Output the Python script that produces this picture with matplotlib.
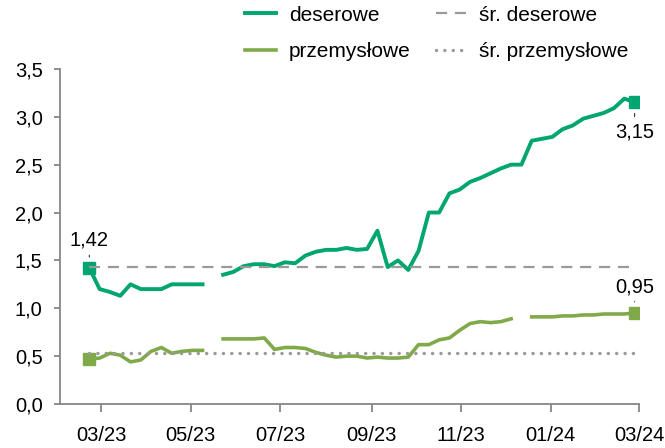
import pandas as pd
import numpy as np
import matplotlib
matplotlib.use("Agg")
import matplotlib.pyplot as plt
import matplotlib.dates as mdates

plt.rcParams['font.family'] = ['Liberation Sans', 'DejaVu Sans']

# tygodniowe notowania (NaN = brak danych)
dates = pd.date_range('2023-02-21', periods=54, freq='7D')

deserowe = [1.42, 1.20, 1.17, 1.13, 1.25, 1.20, 1.20, 1.20, 1.25, 1.25,
            1.25, 1.25, np.nan, 1.35, 1.38, 1.44, 1.46, 1.46, 1.44, 1.48,
            1.47, 1.55, 1.59, 1.61, 1.61, 1.63, 1.61, 1.62, 1.81, 1.43,
            1.50, 1.40, 1.60, 2.00, 2.00, 2.20, 2.24, 2.32, 2.36, 2.41,
            2.46, 2.50, 2.50, 2.75, 2.77, 2.79, 2.87, 2.91, 2.98, 3.01,
            3.04, 3.09, 3.19, 3.15]

przemyslowe = [0.47, 0.48, 0.53, 0.51, 0.44, 0.46, 0.55, 0.59, 0.53, 0.55,
               0.56, 0.56, np.nan, 0.68, 0.68, 0.68, 0.68, 0.69, 0.57, 0.59,
               0.59, 0.58, 0.54, 0.51, 0.49, 0.50, 0.50, 0.48, 0.49, 0.48,
               0.48, 0.49, 0.62, 0.62, 0.67, 0.69, 0.77, 0.84, 0.86, 0.85,
               0.86, 0.89, np.nan, 0.91, 0.91, 0.91, 0.92, 0.92, 0.93, 0.93,
               0.94, 0.94, 0.94, 0.95]

sr_deserowe = 1.43
sr_przemyslowe = 0.53

labels = ['deserowe', 'przemysłowe', 'śr. deserowe', 'śr. przemysłowe']
tick_dates = pd.to_datetime(['2023-03-01', '2023-05-01', '2023-07-01', '2023-09-01',
                             '2023-11-01', '2024-01-01', '2024-03-01'])

c_des = '#00A56F'
c_prz = '#80AA4A'
c_avg = '#9A9A9A'
c_axis = '#868686'
fs = 14.5

fig = plt.figure(figsize=(6.65, 4.48), dpi=100)
ax = fig.add_axes([0.0902, 0.0982, 0.8707, 0.748])

l1, = ax.plot(dates, deserowe, color=c_des, lw=2.8, solid_joinstyle='round', label=labels[0])
l2, = ax.plot(dates, przemyslowe, color=c_prz, lw=2.6, solid_joinstyle='round', label=labels[1])

# znaczniki na poczatku i koncu
ax.plot([dates[0], dates[-1]], [deserowe[0], deserowe[-1]], 's', color=c_des, ms=8)
ax.plot([dates[0], dates[-1]], [przemyslowe[0], przemyslowe[-1]], 's', color=c_prz, ms=8)

l3, = ax.plot([dates[0], dates[-1]], [sr_deserowe] * 2, color=c_avg, lw=1.6,
              dashes=(5, 3.5), label=labels[2])
l4, = ax.plot([dates[0], dates[-1]], [sr_przemyslowe] * 2, color=c_avg, lw=2.5,
              dashes=(0.01, 2.4), dash_capstyle='round', label=labels[3])

def fmt(v):
    return f'{v:.2f}'.replace('.', ',')

ann = [(dates[0], deserowe[0], 20), (dates[-1], deserowe[-1], -21),
       (dates[-1], przemyslowe[-1], 19)]
for d, v, off in ann:
    ax.annotate(fmt(v), xy=(d, v), xytext=(0, off), textcoords='offset points',
                ha='center', va='center', fontsize=fs,
                arrowprops=dict(arrowstyle='-', color='#404040', lw=0.9,
                                shrinkA=2, shrinkB=8))

ax.set_ylim(0, 3.5)
ax.set_yticks(np.arange(0, 3.51, 0.5))
ax.set_yticklabels([f'{v:.1f}'.replace('.', ',') for v in np.arange(0, 3.51, 0.5)])
ax.set_xlim(pd.Timestamp('2023-02-01'), pd.Timestamp('2024-03-01'))
ax.set_xticks(tick_dates)
ax.xaxis.set_major_formatter(mdates.DateFormatter('%m/%y'))

for s in ['top', 'right']:
    ax.spines[s].set_visible(False)
for s in ['left', 'bottom']:
    ax.spines[s].set_color(c_axis)
    ax.spines[s].set_linewidth(1.3)
ax.tick_params(axis='both', colors=c_axis, labelcolor='black', labelsize=fs, width=1.3)
ax.tick_params(axis='y', length=4.5, pad=8)
ax.tick_params(axis='x', length=6, pad=10)

fig.legend(handles=[l1, l2, l3, l4], labels=labels, ncol=2, frameon=False,
           loc='center', bbox_to_anchor=(0.657, 0.925), fontsize=15,
           handlelength=1.5, handletextpad=0.6, columnspacing=1.2,
           labelspacing=0.85)

fig.savefig('out.png', dpi=100)
